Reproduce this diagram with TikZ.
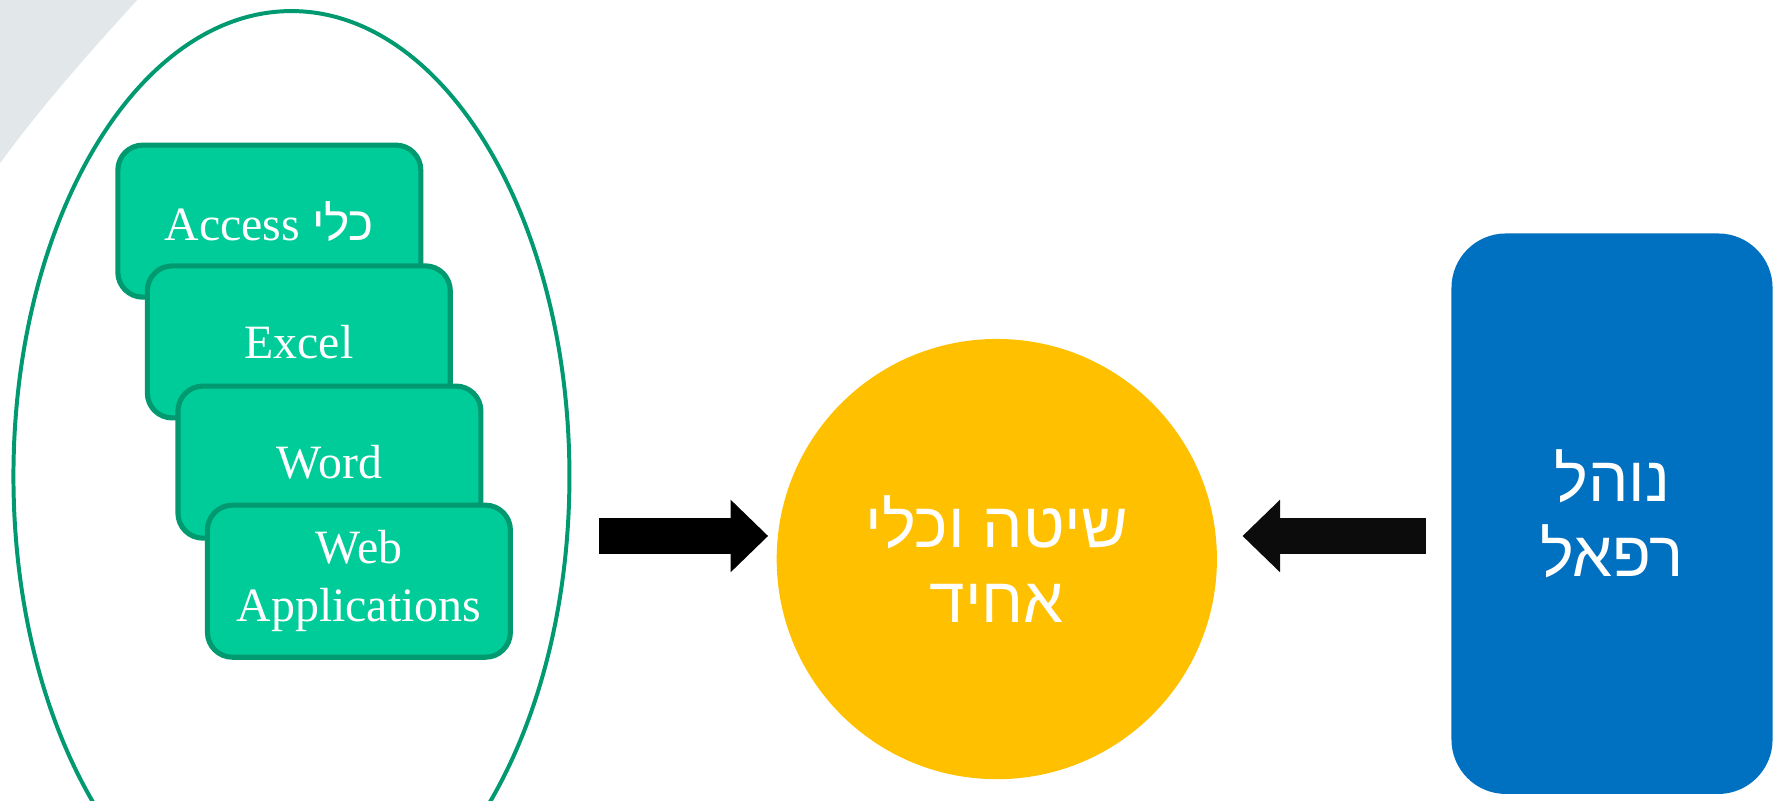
\documentclass[tikz,border=0pt]{standalone}
\usepackage{fontspec}
\setmainfont{Liberation Serif}
\newfontfamily\hebfont[Script=Hebrew]{Liberation Sans}
\TeXXeTstate=1
\usetikzlibrary{arrows.meta,shapes.geometric}

\definecolor{toolfill}{RGB}{0,204,153}
\definecolor{toolline}{RGB}{0,153,112}
\definecolor{methodgold}{RGB}{255,192,0}
\definecolor{rafaelblue}{RGB}{0,112,192}
\definecolor{cornergrey}{RGB}{226,232,234}

\tikzset{
  toolbox/.style={draw=toolline, fill=toolfill, line width=0.045cm, rounded corners=0.22cm,
    minimum width=2.67cm, minimum height=1.34cm, text=white, align=center,
    font=\fontsize{12}{14.5}\selectfont},
  hebtext/.style={text=white, align=center, font=\hebfont\fontsize{16}{19}\selectfont},
  blockarrow/.style={line width=0.32cm, -{Triangle[width=0.64cm,length=0.33cm,line width=0pt]}}
}

\begin{document}
\begin{tikzpicture}[x=0.01cm,y=-0.01cm]
        \clip (0,0) rectangle (1567,706);
        \fill[cornergrey] (0,0) -- (121,0) .. controls (80,45) and (38,92) .. (0,144) -- cycle;
        % tools
        \node[ellipse, draw=toolline, line width=0.035cm, minimum width=4.9cm, minimum height=8.2cm] (tools) at (257,420) {};
        \node[toolbox] (access) at (237.5,195) {Access {\hebfont\beginR כלי\endR}};
        \node[toolbox] (excel) at (263.5,301.5) {Excel};
        \node[toolbox] (word) at (290.5,407.5) {Word};
        \node[toolbox] (web) at (316.5,512.5) {Web\\Applications};
        % method and procedure
        \node[circle, fill=methodgold, minimum size=3.88cm, hebtext] (method) at (879,493) {\beginR שיטה וכלי\endR\\\beginR אחיד\endR};
        \node[fill=rafaelblue, rounded corners=0.48cm, minimum width=2.83cm, minimum height=4.94cm, hebtext] (rafael) at (1421.5,453) {\beginR נוהל\endR\\\beginR רפאל\endR};
        \draw[blockarrow, shorten <=0.24cm, shorten >=0.08cm] (tools.east |- method.174) -- (method.174);
        \draw[blockarrow, draw={rgb,255:red,12;green,12;blue,12}, shorten <=0.22cm, shorten >=0.23cm] (rafael.west |- method.6) -- (method.6);
\end{tikzpicture}
\end{document}
